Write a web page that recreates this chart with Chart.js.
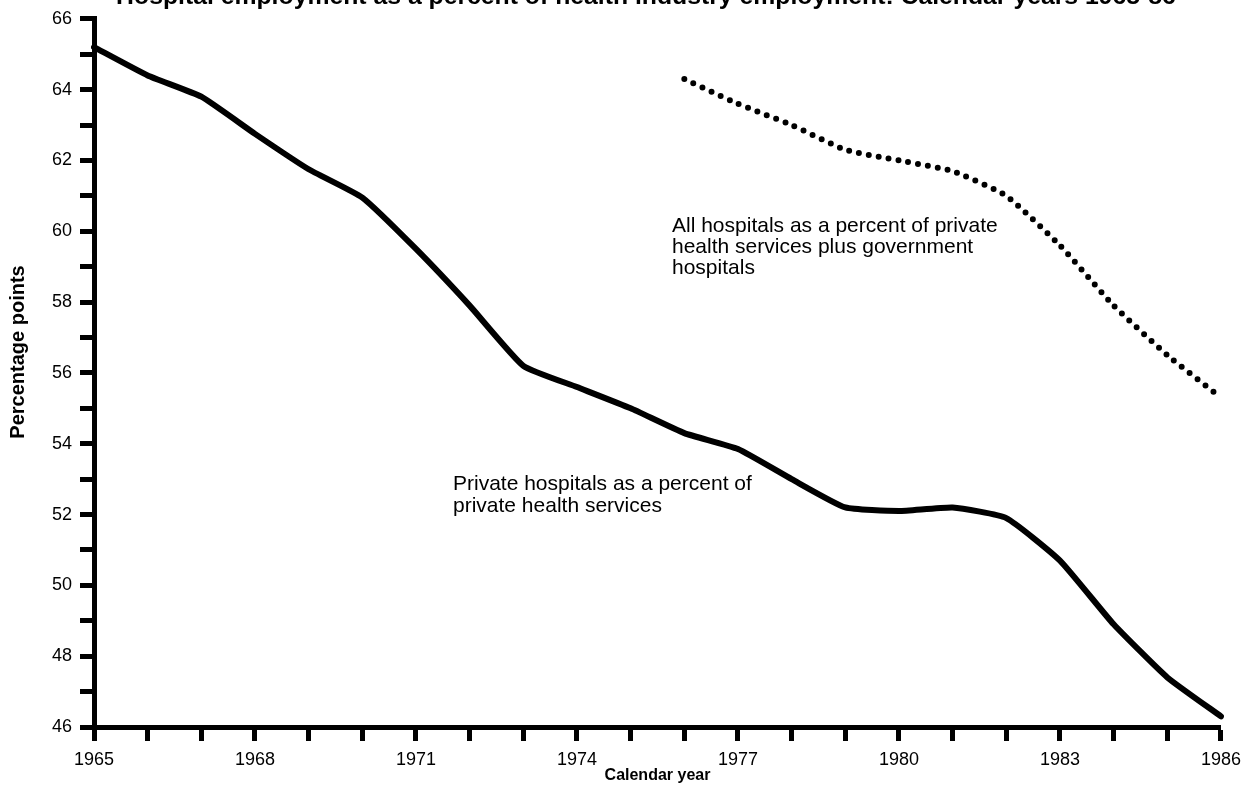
<!DOCTYPE html>
<html>
<head>
<meta charset="utf-8">
<script src="https://cdn.jsdelivr.net/npm/chart.js@4"></script>
<style>
  html, body { margin: 0; padding: 0; background: #fff; }
  #wrap { width: 1249px; height: 801px; position: relative; }
</style>
</head>
<body>
<div id="wrap"><canvas id="hospChart"></canvas></div>
<script>
// Data
const years = ['1965', '1966', '1967', '1968', '1969', '1970', '1971', '1972', '1973', '1974', '1975',
               '1976', '1977', '1978', '1979', '1980', '1981', '1982', '1983', '1984', '1985', '1986'];

// Private hospitals as a percent of private health services
const privateHosp = [65.2, 64.4, 63.8, 62.75, 61.75, 60.95, 59.5, 57.9, 56.2, 55.6, 55.0,
                     54.3, 53.85, 53.0, 52.2, 52.1, 52.2, 51.9, 50.7, 48.9, 47.4, 46.3];

// All hospitals as a percent of private health services plus government hospitals
const allHosp = [null, null, null, null, null, null, null, null, null, null, null,
                 64.3, 63.6, 63.0, 62.3, 62.0, 61.7, 61.0, 59.6, 57.9, 56.5, 55.3];

const yMin = 46, yMax = 66;

const titleText = 'Hospital employment as a percent of health industry employment: Calendar years 1965-86';
const yTitle = 'Percentage points';
const privateNote = ['Private hospitals as a percent of', 'private health services'];
const allNote = ['All hospitals as a percent of private', 'health services plus government', 'hospitals'];

const FONT = "'Liberation Sans', Arial, Helvetica, sans-serif";

// Title (cut off at the top in the original), y title and line notes
const notesPlugin = {
    id: 'notes',
    afterDraw(chart) {
        const ctx = chart.ctx;
        ctx.save();
        ctx.fillStyle = '#000';

        // title: size chosen so it spans the same width as the original
        let size = 22;
        ctx.font = 'bold ' + size + 'px ' + FONT;
        size = size * 1060 / ctx.measureText(titleText).width;
        ctx.font = 'bold ' + size + 'px ' + FONT;
        ctx.textAlign = 'center';
        ctx.textBaseline = 'alphabetic';
        ctx.fillText(titleText, 646, 4);

        // y axis title, sits a little above the middle of the axis
        ctx.save();
        ctx.translate(18, 352);
        ctx.rotate(-Math.PI / 2);
        ctx.font = 'bold 20px ' + FONT;
        ctx.textBaseline = 'middle';
        ctx.fillText(yTitle, 0, 0);
        ctx.restore();

        ctx.textAlign = 'left';
        ctx.font = '21px ' + FONT;
        privateNote.forEach(function(line, i) {
            ctx.fillText(line, 453, 490 + i * 22);
        });
        allNote.forEach(function(line, i) {
            ctx.fillText(line, 672, 232 + i * 21);
        });
        ctx.restore();
    }
};

document.addEventListener('DOMContentLoaded', function() {
    const ctx = document.getElementById('hospChart');
    new Chart(ctx, {
        type: 'line',
        data: {
            labels: years,
            datasets: [{
                label: 'Private hospitals',
                data: privateHosp,
                borderColor: '#000',
                borderWidth: 6,
                tension: 0.15,
                borderJoinStyle: 'round',
                borderCapStyle: 'round',
                pointRadius: 0,
                fill: false
            }, {
                label: 'All hospitals',
                data: allHosp,
                borderColor: '#000',
                borderWidth: 6,
                borderDash: [0, 10],
                borderCapStyle: 'round',
                tension: 0.15,
                pointRadius: 0,
                fill: false
            }]
        },
        options: {
            responsive: true,
            maintainAspectRatio: false,
            animation: false,
            layout: {
                padding: { top: 16, right: 27, bottom: 0, left: 0 }
            },
            scales: {
                x: {
                    offset: false,
                    afterFit: function(scale) { scale.height = 74; },
                    border: { display: true, color: '#000', width: 5 },
                    grid: {
                        drawOnChartArea: false,
                        drawTicks: true,
                        tickLength: 14,
                        tickWidth: 5,
                        tickColor: '#000'
                    },
                    ticks: {
                        color: '#000',
                        autoSkip: false,
                        maxRotation: 0,
                        padding: 8,
                        font: { family: FONT, size: 18 },
                        callback: function(value, index) {
                            return index % 3 === 0 ? this.getLabelForValue(value) : '';
                        }
                    },
                    title: {
                        display: true,
                        text: 'Calendar year',
                        color: '#000',
                        font: { family: FONT, size: 16, weight: 'bold' },
                        padding: { top: 0, bottom: 16 }
                    }
                },
                y: {
                    min: yMin,
                    max: yMax,
                    afterFit: function(scale) { scale.width = 94; },
                    border: { display: true, color: '#000', width: 5 },
                    grid: {
                        drawOnChartArea: false,
                        drawTicks: true,
                        tickLength: 14,
                        tickWidth: 5,
                        tickColor: '#000'
                    },
                    ticks: {
                        stepSize: 1,
                        autoSkip: false,
                        color: '#000',
                        padding: 8,
                        font: { family: FONT, size: 18 },
                        callback: function(value) {
                            return value % 2 === 0 ? value : '';
                        }
                    }
                }
            },
            plugins: {
                legend: { display: false },
                tooltip: { enabled: false }
            }
        },
        plugins: [notesPlugin]
    });
});
</script>
</body>
</html>
